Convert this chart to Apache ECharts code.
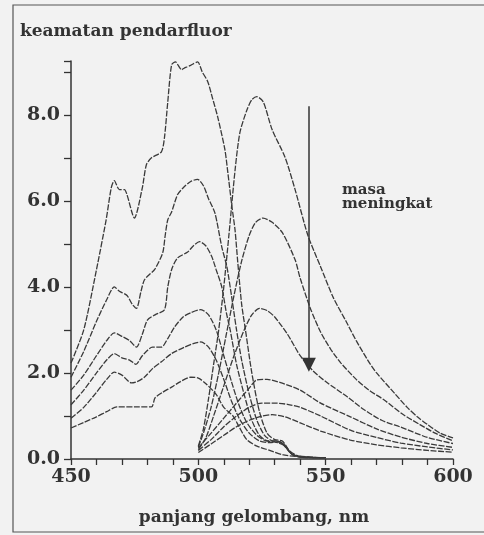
<!DOCTYPE html>
<html>
<head>
<meta charset="utf-8">
<script src="https://cdn.jsdelivr.net/npm/echarts@6/dist/echarts.min.js"></script>
<style>
  html, body { margin: 0; padding: 0; background: #f2f2f2; }
  #chart { width: 484px; height: 535px; }
</style>
</head>
<body>
<div id="chart"></div>
<script>
// excitation spectra (left family), [nm, intensity]
const exc1 = [[450,2.23],[455,3.0],[460,4.4],[463.8,5.56],[465.8,6.3],[467,6.47],[469,6.26],[471,6.26],[472,6.14],[474.9,5.6],[478,6.3],[479.6,6.84],[481.6,7.0],[485.5,7.14],[486.7,7.47],[488,8.3],[489.5,9.16],[491,9.23],[493.4,9.05],[495,9.1],[497,9.15],[499.7,9.23],[501.5,9.0],[503.7,8.77],[505.5,8.4],[507.6,7.95],[510.4,7.2],[511.6,6.65],[513.2,5.86],[514.4,5.33],[515.5,4.56],[517,3.6],[518.5,3.0],[521,2.0],[524,1.1],[527,0.6],[530,0.45],[533,0.42],[536,0.18],[540,0.06],[550,0.03]];
const exc2 = [[450,1.9],[455,2.5],[460,3.2],[464,3.7],[467,4.0],[469,3.9],[472,3.8],[474,3.6],[475.7,3.5],[477.5,3.9],[478.8,4.16],[481,4.3],[482.8,4.4],[486,4.79],[487,5.2],[488,5.56],[489.5,5.74],[491.8,6.14],[494,6.3],[497,6.45],[499.7,6.5],[502,6.35],[504,6.05],[506.5,5.72],[509.2,4.93],[511.2,4.47],[513,3.8],[515,3.0],[517,2.3],[520,1.5],[523,0.9],[526,0.55],[529,0.42],[533,0.38],[536,0.15],[540,0.05],[550,0.03]];
const exc3 = [[450,1.6],[455,1.95],[460,2.4],[464,2.75],[467,2.93],[470,2.85],[473,2.75],[475.7,2.6],[478,2.9],[480,3.23],[483,3.35],[486.7,3.47],[488,4.0],[489.5,4.4],[491.8,4.67],[495.8,4.81],[498,4.95],[500.5,5.05],[503,4.95],[505.3,4.7],[507,4.4],[509.2,4.0],[511,3.4],[512.5,3.0],[515,2.2],[518,1.5],[521,0.9],[524,0.55],[527,0.42],[531,0.38],[534,0.3],[537,0.1],[541,0.04],[550,0.03]];
const exc4 = [[450,1.26],[455,1.6],[460,2.0],[464,2.3],[467,2.45],[470,2.35],[473,2.3],[475.5,2.2],[478,2.4],[482,2.6],[485.5,2.6],[488,2.8],[490.7,3.07],[494,3.3],[497,3.4],[501,3.47],[504,3.35],[507,3.0],[510,2.4],[513,1.8],[516,1.25],[519,0.85],[523,0.55],[527,0.42],[531,0.42],[534,0.3],[537,0.1],[541,0.04],[550,0.03]];
const exc5 = [[450,0.95],[455,1.2],[460,1.55],[464,1.85],[467,2.02],[470,1.95],[473.7,1.77],[476,1.8],[478.8,1.9],[482,2.1],[485.5,2.26],[489.5,2.45],[494.6,2.6],[498,2.68],[501,2.72],[504,2.6],[507,2.3],[510,1.85],[513,1.35],[516,0.95],[520,0.6],[524,0.42],[528,0.38],[532,0.4],[535,0.22],[538,0.08],[550,0.03]];
const exc6 = [[450,0.72],[455,0.85],[460,0.98],[464,1.1],[468,1.21],[475,1.21],[481.6,1.21],[483,1.42],[486,1.55],[489.5,1.67],[493,1.8],[497,1.9],[500,1.88],[503,1.75],[507,1.5],[510,1.2],[513.6,1.0],[516,0.75],[519,0.45],[523,0.3],[528,0.2],[533,0.1],[540,0.05],[550,0.03]];

// emission spectra (right family)
const emi1 = [[500,0.3],[502,0.7],[504,1.4],[506,2.2],[508,3.0],[510,4.0],[512,5.2],[514.4,6.7],[516.3,7.58],[519,8.1],[521,8.35],[523,8.42],[525.5,8.3],[529,7.65],[534,7.02],[538,6.26],[543,5.2],[548,4.47],[553,3.75],[558,3.2],[562,2.75],[566.5,2.3],[570,2.0],[577,1.53],[582,1.2],[586,0.98],[590,0.8],[595,0.6],[600,0.49]];
const emi2 = [[500,0.28],[502,0.6],[505,1.2],[508,2.0],[511,2.9],[514,3.8],[517,4.6],[520,5.2],[522.5,5.5],[525.4,5.6],[529,5.5],[533,5.26],[538,4.63],[540,4.2],[544,3.5],[548,2.95],[552,2.55],[556,2.23],[562,1.85],[567,1.6],[573,1.37],[580,1.05],[587,0.8],[593,0.6],[600,0.42]];
const emi3 = [[500,0.22],[503,0.5],[506,1.0],[510,1.7],[514,2.4],[518,3.0],[521,3.35],[524,3.5],[527,3.45],[530,3.3],[535,2.9],[540,2.4],[545,2.05],[550,1.8],[558.6,1.44],[565,1.15],[572,0.9],[579.5,0.74],[590,0.5],[600,0.36]];
const emi4 = [[500,0.26],[505,0.6],[510,0.95],[515,1.3],[520,1.65],[523,1.84],[527,1.85],[532,1.78],[540,1.6],[548,1.3],[559.7,0.98],[570,0.7],[579.5,0.51],[590,0.36],[600,0.27]];
const emi5 = [[500,0.2],[505,0.45],[510,0.75],[515,1.0],[520,1.2],[525,1.3],[530,1.3],[535,1.27],[540,1.2],[548,1.0],[559.7,0.67],[570,0.5],[579.5,0.37],[590,0.28],[600,0.21]];
const emi6 = [[500,0.15],[505,0.35],[510,0.55],[515,0.75],[520,0.9],[525,1.0],[529,1.03],[534,0.98],[540,0.84],[548,0.65],[559.7,0.44],[570,0.33],[579.5,0.26],[590,0.2],[600,0.16]];

// arrow "masa meningkat"
const arrowX = 543.4
const arrowFrom = 8.2
const arrowTo = 2.19

const font = 'DejaVu Serif'
const ink = '#333'

const curves = [exc1, exc2, exc3, exc4, exc5, exc6, emi1, emi2, emi3, emi4, emi5, emi6]

const myChart = echarts.init(document.getElementById('chart'))

const series = curves.map(function (d, i) {
  const s = {
    type: 'line',
    data: d,
    showSymbol: false,
    smooth: 0.25,
    silent: true,
    lineStyle: { color: '#3a3a3a', width: 1.3, type: [6, 1.5] }
  }
  if (i === 6) {
    s.markLine = {
      silent: true,
      symbol: ['none', 'triangle'],
      symbolSize: 14,
      label: { show: false },
      lineStyle: { color: ink, width: 1.5, type: 'solid' },
      data: [[{ coord: [arrowX, arrowFrom] }, { coord: [arrowX, arrowTo] }]]
    }
  }
  return s
})

myChart.setOption({
  backgroundColor: '#f2f2f2',
  animation: false,
  title: {
    text: 'keamatan pendarfluor',
    left: 15,
    top: 18,
    textStyle: { fontFamily: font, fontWeight: 'bold', fontSize: 17, color: ink }
  },
  grid: { left: 71, right: 31, top: 61, bottom: 76 },
  xAxis: {
    type: 'value',
    min: 450,
    max: 600,
    interval: 10,
    name: 'panjang gelombang, nm',
    nameLocation: 'middle',
    nameGap: 50,
    nameTextStyle: { fontFamily: font, fontWeight: 'bold', fontSize: 17, color: ink, padding: [0, 16, 0, 0] },
    splitLine: { show: false },
    axisLine: { lineStyle: { color: ink, width: 1.5 } },
    axisTick: { length: 6, lineStyle: { color: ink, width: 1.3 } },
    axisLabel: {
      margin: 9,
      fontFamily: font, fontWeight: 'bold', fontSize: 19, color: ink,
      formatter: function (v) { return v % 50 === 0 ? String(v) : '' }
    }
  },
  yAxis: {
    type: 'value',
    min: 0,
    max: 9.25,
    interval: 1,
    splitLine: { show: false },
    axisLine: { show: true, lineStyle: { color: ink, width: 1.5 } },
    axisTick: { show: true, length: 7, lineStyle: { color: ink, width: 1.3 } },
    axisLabel: {
      margin: 11,
      fontFamily: font, fontWeight: 'bold', fontSize: 19, color: ink,
      formatter: function (v) { return (v % 2 === 0 && v <= 8) ? v.toFixed(1) : '' }
    }
  },
  graphic: [
    {
      type: 'rect',
      shape: { x: 13, y: 5, width: 490, height: 527 },
      style: { fill: 'none', stroke: '#555', lineWidth: 1.2 },
      silent: true
    },
    {
      type: 'text',
      left: 342,
      top: 183,
      style: {
        text: 'masa\nmeningkat',
        font: 'bold 15px "DejaVu Serif"',
        lineHeight: 14,
        fill: ink
      },
      silent: true
    }
  ],
  series: series
})
</script>
</body>
</html>
